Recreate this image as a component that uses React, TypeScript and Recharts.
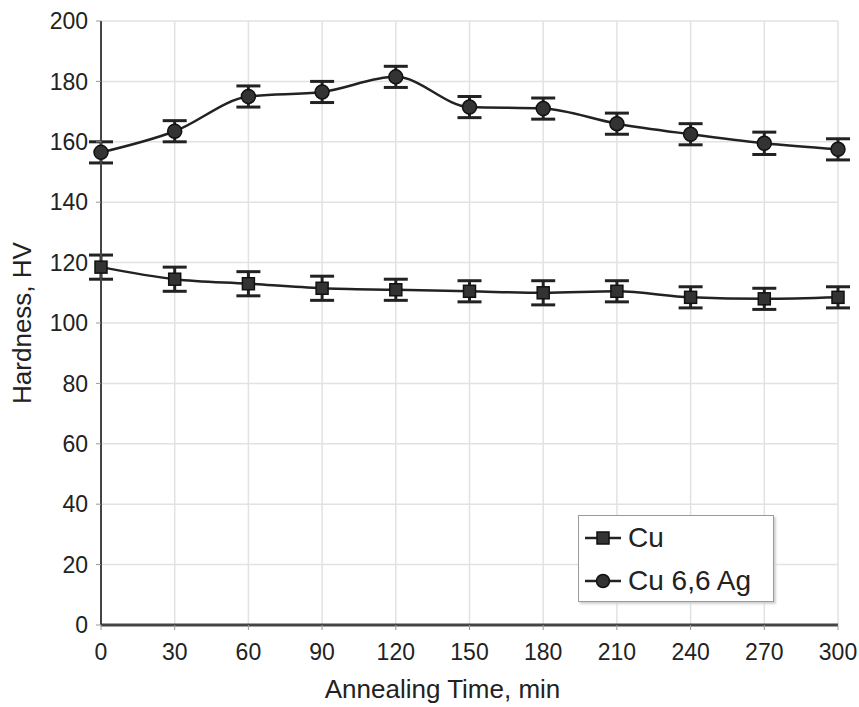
import {
  LineChart,
  Line,
  XAxis,
  YAxis,
  CartesianGrid,
  ErrorBar,
  Label,
} from "recharts";

const TIMES = [0, 30, 60, 90, 120, 150, 180, 210, 240, 270, 300];
const CU = [118.5, 114.5, 113, 111.5, 111, 110.5, 110, 110.5, 108.5, 108, 108.5];
const CU_ERR = [4, 4, 4, 4, 3.5, 3.5, 4, 3.5, 3.5, 3.5, 3.5];
const CU_AG = [156.5, 163.5, 175, 176.5, 181.5, 171.5, 171, 166, 162.5, 159.5, 157.5];
const CU_AG_ERR = [3.5, 3.5, 3.5, 3.5, 3.5, 3.5, 3.5, 3.5, 3.5, 3.7, 3.5];
const Y_TICKS = [0, 20, 40, 60, 80, 100, 120, 140, 160, 180, 200];
const SERIES_NAMES = ["Cu", "Cu 6,6 Ag"];

const FONT = '"Liberation Sans", Arial, sans-serif';
const INK = "#222";

const data = TIMES.map((t, i) => ({
  t,
  cu: CU[i],
  cuErr: CU_ERR[i],
  ag: CU_AG[i],
  agErr: CU_AG_ERR[i],
}));

function SquareDot(props: any) {
  const { cx, cy } = props;
  if (cx == null || cy == null) return null;
  return <rect x={cx - 6} y={cy - 6} width={12} height={12} fill="#333" stroke="#111" strokeWidth={1.5} />;
}

function RoundDot(props: any) {
  const { cx, cy } = props;
  if (cx == null || cy == null) return null;
  return <circle cx={cx} cy={cy} r={7} fill="#333" stroke="#111" strokeWidth={1.5} />;
}

function LegendBox() {
  const row = (marker: "square" | "circle", text: string) => (
    <div style={{ display: "flex", alignItems: "center", height: 43 }}>
      <svg width={36} height={20} style={{ marginRight: 7 }}>
        <line x1={0} y1={10} x2={36} y2={10} stroke={INK} strokeWidth={2.5} />
        {marker === "square" ? (
          <rect x={12} y={4} width={12} height={12} fill="#333" stroke="#111" strokeWidth={1.5} />
        ) : (
          <circle cx={18} cy={10} r={6.5} fill="#333" stroke="#111" strokeWidth={1.5} />
        )}
      </svg>
      <span style={{ fontSize: 28, color: INK, fontFamily: FONT, whiteSpace: "nowrap" }}>{text}</span>
    </div>
  );
  return (
    <div
      style={{
        position: "absolute",
        left: 578,
        top: 515,
        width: 196,
        height: 87,
        border: "1.5px solid #9a9a9a",
        boxShadow: "2px 2px 2px #d0d0d0",
        background: "#fff",
        paddingLeft: 6,
        boxSizing: "border-box",
      }}
    >
      {row("square", SERIES_NAMES[0])}
      {row("circle", SERIES_NAMES[1])}
    </div>
  );
}

export default function App() {
  return (
    <div style={{ position: "absolute", left: 0, top: 0, width: 859, height: 707, background: "#fff" }}>
      <LineChart
        width={859}
        height={707}
        data={data}
        margin={{ top: 21, right: 21, bottom: 0, left: 0 }}
        style={{ fontFamily: FONT }}
      >
        <CartesianGrid stroke="#e2e2e2" strokeWidth={1.5} />
        <XAxis
          dataKey="t"
          type="number"
          domain={[0, 300]}
          ticks={TIMES}
          height={82}
          tickSize={5}
          tickMargin={14}
          axisLine={{ stroke: "#444", strokeWidth: 3 }}
          tickLine={{ stroke: "#999" }}
          tick={{ fill: INK, fontSize: 23 }}
        >
          <Label
            value="Annealing Time, min"
            position="insideBottom"
            offset={9}
            dx={-27}
            style={{ fill: INK, fontSize: 26, textAnchor: "middle" }}
          />
        </XAxis>
        <YAxis
          type="number"
          domain={[0, 200]}
          ticks={Y_TICKS}
          width={101}
          tickSize={5}
          tickMargin={8}
          axisLine={{ stroke: "#444", strokeWidth: 2 }}
          tickLine={{ stroke: "#999" }}
          tick={{ fill: INK, fontSize: 23 }}
        >
          <Label
            value="Hardness, HV"
            angle={-90}
            position="insideLeft"
            offset={22}
            style={{ fill: INK, fontSize: 26, textAnchor: "middle" }}
          />
        </YAxis>
        <Line
          type="monotone"
          dataKey="cu"
          name={SERIES_NAMES[0]}
          stroke={INK}
          strokeWidth={2.5}
          dot={<SquareDot />}
          activeDot={false}
          isAnimationActive={false}
        >
          <ErrorBar dataKey="cuErr" direction="y" width={12} stroke={INK} strokeWidth={3} />
        </Line>
        <Line
          type="monotone"
          dataKey="ag"
          name={SERIES_NAMES[1]}
          stroke={INK}
          strokeWidth={2.5}
          dot={<RoundDot />}
          activeDot={false}
          isAnimationActive={false}
        >
          <ErrorBar dataKey="agErr" direction="y" width={12} stroke={INK} strokeWidth={3} />
        </Line>
      </LineChart>
      <LegendBox />
    </div>
  );
}
